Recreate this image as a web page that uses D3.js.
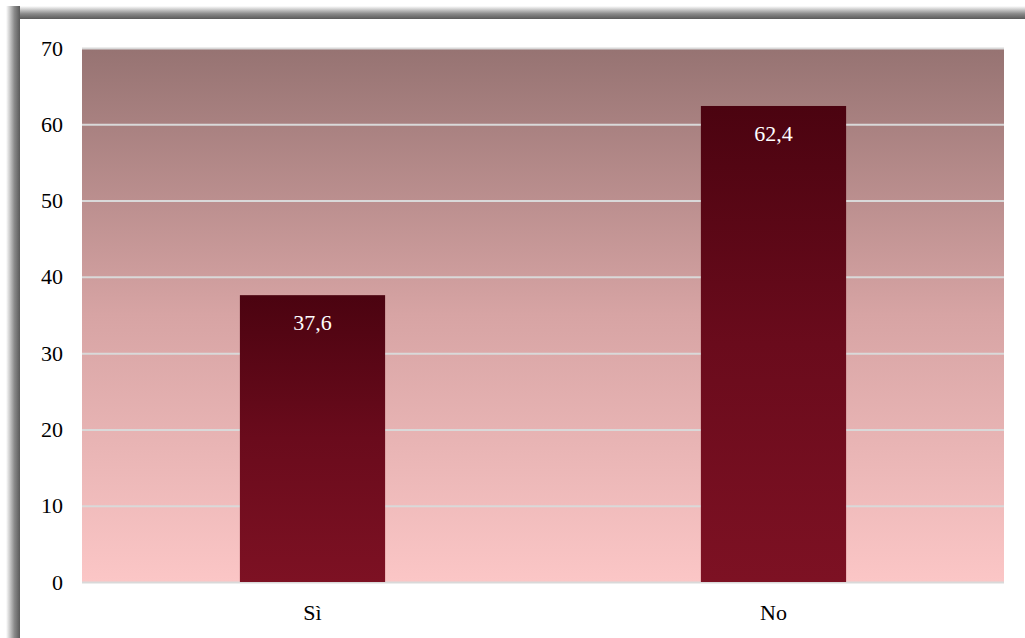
<!DOCTYPE html>
<html>
<head>
<meta charset="utf-8">
<script src="https://cdn.jsdelivr.net/npm/d3@7.9.0/dist/d3.min.js"></script>
<style>
  html, body { margin: 0; padding: 0; background: #fff; }
  svg { display: block; }
</style>
</head>
<body>
<div id="chart"></div>
<script>
// chart values
const categories = ['Sì', 'No'];
const values = [37.6, 62.4];
const valueLabels = ['37,6', '62,4'];
const yTicks = [0, 10, 20, 30, 40, 50, 60, 70];

const FONT = 'Liberation Serif, Times New Roman, Times, serif';

const width = 1025;
const height = 638;
const margin = { top: 48, right: 21, bottom: 56, left: 82 };

const svg = d3.select('#chart')
  .append('svg')
  .attr('width', width)
  .attr('height', height)
  .attr('font-family', FONT);

const defs = svg.append('defs');

// frame shadow (left and top)
const shadowL = defs.append('linearGradient').attr('id', 'shL')
  .attr('x1', 0).attr('x2', 1).attr('y1', 0).attr('y2', 0);
shadowL.append('stop').attr('offset', '0%').attr('stop-color', '#fff');
shadowL.append('stop').attr('offset', '60%').attr('stop-color', '#8a8a8a');
shadowL.append('stop').attr('offset', '100%').attr('stop-color', '#5a5a5a');

const shadowT = defs.append('linearGradient').attr('id', 'shT')
  .attr('x1', 0).attr('x2', 0).attr('y1', 0).attr('y2', 1);
shadowT.append('stop').attr('offset', '0%').attr('stop-color', '#fff');
shadowT.append('stop').attr('offset', '60%').attr('stop-color', '#8a8a8a');
shadowT.append('stop').attr('offset', '100%').attr('stop-color', '#5a5a5a');

svg.append('rect').attr('x', 6).attr('y', 6).attr('width', width).attr('height', 13)
  .attr('fill', 'url(#shT)');
svg.append('rect').attr('x', 6).attr('y', 6).attr('width', 14).attr('height', height)
  .attr('fill', 'url(#shL)');
svg.append('rect').attr('x', 20).attr('y', 19).attr('width', width).attr('height', height)
  .attr('fill', '#fff');

// plot background gradient
const bg = defs.append('linearGradient').attr('id', 'bg')
  .attr('x1', 0).attr('x2', 0).attr('y1', 0).attr('y2', 1);
bg.append('stop').attr('offset', '0%').attr('stop-color', '#967372');
bg.append('stop').attr('offset', '50%').attr('stop-color', '#d7a4a4');
bg.append('stop').attr('offset', '100%').attr('stop-color', '#fbc6c6');

// bar gradient (per bar)
const barGrad = defs.append('linearGradient').attr('id', 'barGrad')
  .attr('x1', 0).attr('x2', 0).attr('y1', 0).attr('y2', 1);
barGrad.append('stop').attr('offset', '0%').attr('stop-color', '#4b0310');
barGrad.append('stop').attr('offset', '50%').attr('stop-color', '#6a0b1c');
barGrad.append('stop').attr('offset', '100%').attr('stop-color', '#7d1123');

const x = d3.scaleBand()
  .domain(categories)
  .range([margin.left, width - margin.right])
  .paddingInner(0.685)
  .paddingOuter(0.3425);

const y = d3.scaleLinear()
  .domain([0, 70])
  .range([height - margin.bottom, margin.top]);

svg.append('rect')
  .attr('x', margin.left)
  .attr('y', y(70))
  .attr('width', width - margin.right - margin.left)
  .attr('height', y(0) - y(70))
  .attr('fill', 'url(#bg)');

// gridlines
svg.append('g')
  .attr('class', 'gridlines')
  .attr('transform', `translate(${margin.left}, 0)`)
  .call(d3.axisLeft(y).tickValues(yTicks).tickFormat('')
    .tickSize(-(width - margin.left - margin.right)))
  .call(g => g.select('.domain').remove())
  .call(g => g.selectAll('line').attr('stroke', '#d9d9d9').attr('stroke-width', 2));

// y axis labels
svg.append('g')
  .attr('transform', `translate(${margin.left}, 0)`)
  .call(d3.axisLeft(y).tickValues(yTicks).tickSize(0).tickPadding(19))
  .attr('font-family', FONT)
  .attr('font-size', 22)
  .call(g => g.select('.domain').remove())
  .call(g => g.selectAll('text').attr('fill', '#000'));

// bars
svg.append('g')
  .selectAll('rect')
  .data(values)
  .join('rect')
  .attr('x', (d, i) => x(categories[i]))
  .attr('y', d => y(d))
  .attr('width', x.bandwidth())
  .attr('height', d => y(0) - y(d))
  .attr('fill', 'url(#barGrad)');

// value labels
svg.append('g')
  .attr('font-family', FONT)
  .attr('font-size', 22)
  .selectAll('text')
  .data(values)
  .join('text')
  .attr('x', (d, i) => x(categories[i]) + x.bandwidth() / 2)
  .attr('y', d => y(d) + 35)
  .attr('text-anchor', 'middle')
  .attr('fill', '#fff')
  .text((d, i) => valueLabels[i]);

// x axis labels
svg.append('g')
  .attr('transform', `translate(0, ${y(0)})`)
  .call(d3.axisBottom(x).tickSize(0).tickPadding(22))
  .attr('font-family', FONT)
  .attr('font-size', 22)
  .call(g => g.select('.domain').remove())
  .call(g => g.selectAll('text').attr('fill', '#000'));
</script>
</body>
</html>
